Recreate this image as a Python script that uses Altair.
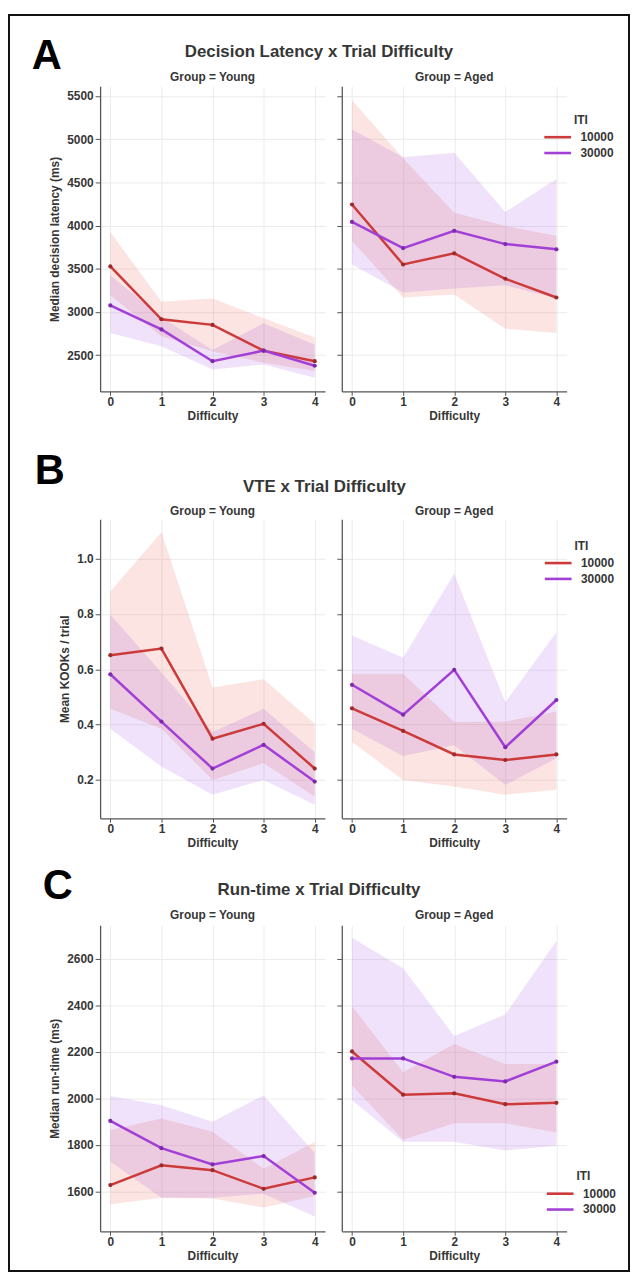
import altair as alt
import pandas as pd

difficulty = [0, 1, 2, 3, 4]
iti_levels = ["10000", "30000"]
group_names = ["Young", "Aged"]

# ---- Panel A: decision latency (ms) ----
dl_young_10000_mean = [3527, 2916, 2851, 2553, 2431]
dl_young_10000_lo = [3195, 2720, 2545, 2412, 2317]
dl_young_10000_hi = [3927, 3118, 3157, 2927, 2706]
dl_young_30000_mean = [3076, 2798, 2431, 2553, 2378]
dl_young_30000_lo = [2756, 2603, 2336, 2393, 2240]
dl_young_30000_hi = [3424, 2940, 2560, 2870, 2622]
dl_aged_10000_mean = [4244, 3550, 3679, 3385, 3168]
dl_aged_10000_lo = [3824, 3168, 3202, 2805, 2756]
dl_aged_10000_hi = [5450, 4780, 4149, 3996, 3882]
dl_aged_30000_mean = [4042, 3740, 3939, 3786, 3725]
dl_aged_30000_lo = [3550, 3225, 3271, 3309, 3156]
dl_aged_30000_hi = [5111, 4790, 4843, 4156, 4538]

# ---- Panel B: VTE (mean KOOKs / trial) ----
vte_young_10000_mean = [0.651, 0.675, 0.349, 0.403, 0.241]
vte_young_10000_lo = [0.457, 0.385, 0.200, 0.260, 0.140]
vte_young_10000_hi = [0.881, 1.096, 0.534, 0.564, 0.403]
vte_young_30000_mean = [0.582, 0.411, 0.241, 0.327, 0.194]
vte_young_30000_lo = [0.385, 0.248, 0.146, 0.200, 0.110]
vte_young_30000_hi = [0.797, 0.588, 0.373, 0.457, 0.300]
vte_aged_10000_mean = [0.459, 0.377, 0.292, 0.272, 0.292]
vte_aged_10000_lo = [0.337, 0.200, 0.176, 0.146, 0.164]
vte_aged_10000_hi = [0.584, 0.584, 0.409, 0.411, 0.447]
vte_aged_30000_mean = [0.544, 0.436, 0.598, 0.318, 0.489]
vte_aged_30000_lo = [0.385, 0.286, 0.325, 0.182, 0.278]
vte_aged_30000_hi = [0.722, 0.642, 0.946, 0.481, 0.734]

# ---- Panel C: run-time (ms) ----
rt_young_10000_mean = [1627, 1712, 1691, 1611, 1660]
rt_young_10000_lo = [1545, 1573, 1569, 1530, 1580]
rt_young_10000_hi = [1864, 1914, 1857, 1697, 1812]
rt_young_30000_mean = [1903, 1786, 1716, 1752, 1594]
rt_young_30000_lo = [1729, 1573, 1573, 1590, 1492]
rt_young_30000_hi = [2010, 1971, 1900, 2013, 1765]
rt_aged_10000_mean = [2202, 2016, 2022, 1975, 1981]
rt_aged_10000_lo = [2056, 1822, 1893, 1893, 1853]
rt_aged_10000_hi = [2397, 2113, 2234, 2148, 2148]
rt_aged_30000_mean = [2172, 2172, 2093, 2073, 2158]
rt_aged_30000_lo = [1992, 1814, 1814, 1776, 1796]
rt_aged_30000_hi = [2691, 2560, 2269, 2361, 2677]

panel_letters = ["A", "B", "C"]
panel_titles = ["Decision Latency x Trial Difficulty", "VTE x Trial Difficulty", "Run-time x Trial Difficulty"]
y_titles = ["Median decision latency (ms)", "Mean KOOKs / trial", "Median run-time (ms)"]
y_domains = [[2081, 5611], [0.061, 1.143], [1428, 2745]]
y_ticks = [[2500, 3000, 3500, 4000, 4500, 5000, 5500],
           [0.2, 0.4, 0.6, 0.8, 1.0],
           [1600, 1800, 2000, 2200, 2400, 2600]]
y_formats = ["d", ".1f", "d"]

line_colors = ["#cc3a3a", "#a13fd6"]
band_colors = ["#e5604e", "#a855e0"]
point_colors = ["#9e2b2b", "#7e2aae"]
TXT = "#363636"
FONT = "Liberation Sans"


def build(series):
    rows = []
    for (g, iti), (m, lo, hi) in series.items():
        for d, a, b, c in zip(difficulty, m, lo, hi):
            rows.append({"Group": g, "ITI": iti, "Difficulty": d, "mean": a, "lo": b, "hi": c})
    return pd.DataFrame(rows)


df_a = build({
    ("Young", "10000"): (dl_young_10000_mean, dl_young_10000_lo, dl_young_10000_hi),
    ("Young", "30000"): (dl_young_30000_mean, dl_young_30000_lo, dl_young_30000_hi),
    ("Aged", "10000"): (dl_aged_10000_mean, dl_aged_10000_lo, dl_aged_10000_hi),
    ("Aged", "30000"): (dl_aged_30000_mean, dl_aged_30000_lo, dl_aged_30000_hi),
})
df_b = build({
    ("Young", "10000"): (vte_young_10000_mean, vte_young_10000_lo, vte_young_10000_hi),
    ("Young", "30000"): (vte_young_30000_mean, vte_young_30000_lo, vte_young_30000_hi),
    ("Aged", "10000"): (vte_aged_10000_mean, vte_aged_10000_lo, vte_aged_10000_hi),
    ("Aged", "30000"): (vte_aged_30000_mean, vte_aged_30000_lo, vte_aged_30000_hi),
})
df_c = build({
    ("Young", "10000"): (rt_young_10000_mean, rt_young_10000_lo, rt_young_10000_hi),
    ("Young", "30000"): (rt_young_30000_mean, rt_young_30000_lo, rt_young_30000_hi),
    ("Aged", "10000"): (rt_aged_10000_mean, rt_aged_10000_lo, rt_aged_10000_hi),
    ("Aged", "30000"): (rt_aged_30000_mean, rt_aged_30000_lo, rt_aged_30000_hi),
})
frames = [df_a, df_b, df_c]

# layout (pixels, relative to each row's Young plot origin)
PW = 227
plot_heights = [308, 302, 309]
row_spans = [(-73, 359), (-78, 344), (-66, 350)]
letter_pos = [(-69, -18), (-66, -36), (-58, -27)]
title_pos = [(221, -29.5), (226.5, -27), (221, -30.5)]
facet_y = [-9.3, -8.3, -10]
legend_pos = [(208.5, 28.8), (209, 21.8), (211, 248.5)]

one = pd.DataFrame({"k": [0]})


def txt(s, x, y, size, align="center", baseline="middle", color=TXT):
    return alt.Chart(pd.DataFrame({"t": [s]})).mark_text(
        font=FONT, fontSize=size, fontWeight="bold", align=align, baseline=baseline, color=color
    ).encode(x=alt.value(x), y=alt.value(y), text="t:N")


def rect(x1, x2, y1, y2):
    return alt.Chart(one).mark_rect(color="#111111").encode(
        x=alt.value(x1), x2=alt.value(x2), y=alt.value(y1), y2=alt.value(y2)
    )


def panel(i, group):
    df = frames[i]
    sub = df[df.Group == group]
    h = plot_heights[i]
    first = group == "Young"
    xs = alt.Scale(domain=[-0.2, 4.2], nice=False, zero=False)
    ys = alt.Scale(domain=y_domains[i], nice=False, zero=False)
    xaxis = alt.Axis(values=difficulty, format="d", title="Difficulty", grid=True)
    if first:
        yaxis = alt.Axis(values=y_ticks[i], format=y_formats[i], title=y_titles[i], grid=True)
        ytitle = y_titles[i]
    else:
        yaxis = alt.Axis(values=y_ticks[i], labels=False, title=None, grid=True)
        ytitle = None
    X = alt.X("Difficulty:Q", scale=xs, axis=xaxis, title="Difficulty")

    band = alt.Chart(sub).mark_area(fillOpacity=0.17).encode(
        x=X,
        y=alt.Y("lo:Q", scale=ys, axis=yaxis, title=ytitle),
        y2="hi:Q",
        fill=alt.Fill("ITI:N", scale=alt.Scale(domain=iti_levels, range=band_colors), legend=None),
    )
    if first:
        leg = None
    else:
        lx, ly = legend_pos[i]
        leg = alt.Legend(
            orient="none", legendX=lx, legendY=ly, title="ITI", padding=0,
            titleFont=FONT, titleFontSize=12, titleFontWeight="bold", titleColor=TXT,
            titleAnchor="middle", titlePadding=1,
            labelFont=FONT, labelFontSize=12, labelFontWeight="bold", labelColor=TXT,
            labelOffset=13.5, symbolType="M-1.743,0H1.743", symbolSize=240,
            symbolStrokeWidth=2.6, rowPadding=0,
        )
    line = alt.Chart(sub).mark_line(strokeWidth=2.5).encode(
        x=X,
        y=alt.Y("mean:Q", scale=ys, axis=yaxis, title=ytitle),
        color=alt.Color("ITI:N", scale=alt.Scale(domain=iti_levels, range=line_colors), legend=leg),
    )
    pts = alt.Chart(sub).mark_circle(size=18, opacity=1).encode(
        x=X,
        y=alt.Y("mean:Q", scale=ys, axis=yaxis, title=ytitle),
        fill=alt.Fill("ITI:N", scale=alt.Scale(domain=iti_levels, range=point_colors), legend=None),
    )

    y1, y2 = row_spans[i]
    decor = [txt("Group = " + group, PW / 2, facet_y[i], 12)]
    if first:
        decor.append(rect(-93, -91, y1, y2))
        if i == 0:
            decor.append(rect(-93, 535, y1, y1 + 2))
        if i == 2:
            decor.append(rect(-93, 535, y2 - 2, y2))
        lx, ly = letter_pos[i]
        decor.append(txt(panel_letters[i], lx, ly, 42, align="left", baseline="alphabetic", color="#000000"))
        tx, ty = title_pos[i]
        decor.append(txt(panel_titles[i], tx, ty, 17, baseline="alphabetic"))
    else:
        decor.append(rect(289, 291, y1, y2))

    return alt.layer(band, line, pts, *decor).resolve_scale(fill="independent").properties(
        width=PW, height=h
    )


rows = []
for i in range(3):
    rows.append(
        alt.hconcat(panel(i, "Young"), panel(i, "Aged"), spacing=17, bounds="flush")
        .resolve_scale(color="independent", fill="independent")
    )

chart = (
    alt.vconcat(*rows, spacing=0)
    .resolve_scale(color="independent", fill="independent")
    .properties(padding=0)
    .configure(font=FONT)
    .configure_view(strokeWidth=0)
    .configure_axis(
        labelFont=FONT, labelFontSize=12, labelFontWeight="bold", labelColor=TXT,
        titleFont=FONT, titleFontSize=12, titleFontWeight="bold", titleColor=TXT,
        domainColor="#555555", domainWidth=1.3, tickColor="#555555", tickWidth=1,
        gridColor="#ebebeb", gridWidth=1,
    )
    .configure_axisX(tickSize=4, labelPadding=1, titlePadding=3)
    .configure_axisY(tickSize=5, labelPadding=2, titlePadding=5)
)

chart.save("out.html", embed_options={"renderer": "svg", "actions": False})
